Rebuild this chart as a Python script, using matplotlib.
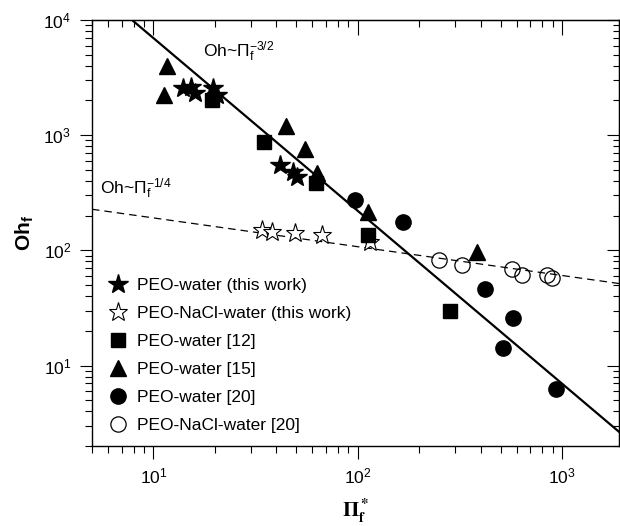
import numpy as np
import matplotlib
matplotlib.use("Agg")
import matplotlib.pyplot as plt
from matplotlib.ticker import NullFormatter, LogLocator

plt.rcParams['font.family'] = ['Liberation Sans', 'DejaVu Sans']
plt.rcParams['mathtext.fontset'] = 'custom'
plt.rcParams['mathtext.rm'] = 'Liberation Sans'
plt.rcParams['mathtext.it'] = 'Liberation Sans'
plt.rcParams['mathtext.bf'] = 'Liberation Sans:bold'

# PEO-water (this work)
pi_star = [14.0, 15.2, 16.0, 19.6, 20.5, 41.7, 48.3, 50.5]
oh_star = [2566, 2612, 2318, 2566, 2230, 548, 477, 431]
# PEO-NaCl-water (this work)
pi_ostar = [34.0, 38.1, 49.4, 67.0, 115]
oh_ostar = [149, 143, 141, 135, 117]
# PEO-water [12]
pi_sq = [19.4, 34.8, 62.5, 112, 282]
oh_sq = [2014, 869, 383, 135, 29.5]
# PEO-water [15]
pi_tri = [11.6, 11.3, 44.7, 55.3, 63.2, 112, 383]
oh_tri = [3981, 2230, 1197, 755, 468, 214, 96]
# PEO-water [20]
pi_circ = [97, 166, 419, 574, 513, 931]
oh_circ = [272, 175, 45.8, 25.6, 14.1, 6.3]
# PEO-NaCl-water [20]
pi_ocirc = [249, 324, 568, 635, 841, 890]
oh_ocirc = [81.8, 74.1, 68.4, 60.7, 60.7, 57.2]

# scaling laws
c_steep = 2.2e5   # Oh ~ Pi^-3/2
c_flat = 340      # Oh ~ Pi^-1/4

fig = plt.figure(figsize=(6.2, 5.26), dpi=100)
ax = fig.add_axes([92/620, 80/526, 527/620, 426/526])
ax.set_xscale('log')
ax.set_yscale('log')
ax.set_xlim(5, 1900)
ax.set_ylim(2, 1e4)

xx = np.logspace(np.log10(5), np.log10(1900), 200)
ax.plot(xx, c_steep * xx ** -1.5, color='black', lw=1.6, zorder=2)
ax.plot(xx, c_flat * xx ** -0.25, color='black', lw=0.9, dashes=(6, 4), zorder=2)

ax.plot(pi_star, oh_star, ls='none', marker='*', ms=15, color='black',
        label='PEO-water (this work)', zorder=3)
ax.plot(pi_ostar, oh_ostar, ls='none', marker='*', ms=14, mfc='white', mec='black',
        mew=0.8, label='PEO-NaCl-water (this work)', zorder=3)
ax.plot(pi_sq, oh_sq, ls='none', marker='s', ms=10, color='black',
        label='PEO-water [12]', zorder=3)
ax.plot(pi_tri, oh_tri, ls='none', marker='^', ms=12, color='black',
        label='PEO-water [15]', zorder=3)
ax.plot(pi_circ, oh_circ, ls='none', marker='o', ms=11, color='black',
        label='PEO-water [20]', zorder=3)
ax.plot(pi_ocirc, oh_ocirc, ls='none', marker='o', ms=11, mfc='none', mec='black',
        mew=0.9, label='PEO-NaCl-water [20]', zorder=3)

ax.text(17.5, 5250, r'Oh~$\Pi_f^{-3/2}$', fontsize=12.5, va='center')
ax.text(5.5, 339, r'Oh~$\Pi_f^{-1/4}$', fontsize=12.5, va='center')

leg = ax.legend(loc='upper left', bbox_to_anchor=(0.02, 0.41), frameon=False,
                fontsize=12.5, handlelength=1.0, handletextpad=0.6, labelspacing=0.74,
                borderaxespad=0)

ax.set_ylabel(r'$\mathbf{Oh_f}$', fontsize=15, labelpad=5)
ax.set_xlabel(r'$\mathbf{\Pi_f^*}$', fontsize=15, math_fontfamily='stix', labelpad=7)

ax.tick_params(which='both', direction='out', labelsize=12.5, width=0.8)
ax.tick_params(which='major', length=9, pad=6)
ax.tick_params(which='minor', length=5)
ax.xaxis.set_minor_formatter(NullFormatter())
ax.yaxis.set_minor_formatter(NullFormatter())
ax.yaxis.set_major_locator(LogLocator(base=10, numticks=10))
ax.yaxis.set_minor_locator(LogLocator(base=10, subs=np.arange(2, 10), numticks=20))

top = ax.secondary_xaxis('top')
top.tick_params(which='both', direction='in', width=0.8)
top.tick_params(which='major', length=11)
top.tick_params(which='minor', length=5)
top.xaxis.set_major_formatter(NullFormatter())
top.xaxis.set_minor_formatter(NullFormatter())

right = ax.secondary_yaxis('right')
right.tick_params(which='both', direction='in', width=0.8)
right.tick_params(which='major', length=9)
right.tick_params(which='minor', length=4)
right.yaxis.set_major_formatter(NullFormatter())
right.yaxis.set_minor_formatter(NullFormatter())

for s in ax.spines.values():
    s.set_linewidth(1.0)

fig.savefig('out.png', dpi=100)
